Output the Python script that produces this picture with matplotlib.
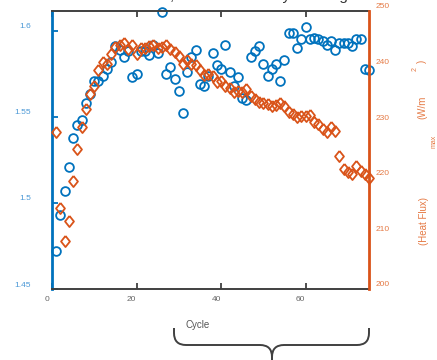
import matplotlib
matplotlib.use("Agg")
import matplotlib.pyplot as plt
from matplotlib.path import Path
from matplotlib.patches import PathPatch
from matplotlib.transforms import ScaledTranslation, IdentityTransform

plt.rcParams['font.family'] = ['Liberation Sans', 'DejaVu Sans']

cycle = list(range(1, 76))

efficiency = [1.472, 1.493, 1.507, 1.521, 1.538, 1.545, 1.548, 1.558, 1.563, 1.571,
              1.571, 1.574, 1.578, 1.582, 1.591, 1.589, 1.585, 1.588, 1.573, 1.575,
              1.588, 1.588, 1.586, 1.592, 1.587, 1.611, 1.575, 1.579, 1.572, 1.565,
              1.552, 1.576, 1.585, 1.589, 1.569, 1.568, 1.574, 1.587, 1.580, 1.578,
              1.592, 1.576, 1.568, 1.573, 1.561, 1.560, 1.585, 1.588, 1.591, 1.581,
              1.574, 1.578, 1.581, 1.571, 1.583, 1.599, 1.599, 1.590, 1.595, 1.602,
              1.595, 1.596, 1.595, 1.594, 1.592, 1.594, 1.589, 1.593, 1.593, 1.593,
              1.591, 1.595, 1.595, 1.578, 1.577]

heat_flux = [228.3, 214.5, 208.6, 212.3, 219.5, 225.1, 229.2, 232.4, 235.1, 236.6,
             239.3, 240.8, 240.5, 242.3, 243.5, 243.8, 244.3, 243.2, 243.8, 242.3,
             243.3, 243.3, 243.7, 243.8, 243.3, 243.5, 243.9, 243.2, 242.6, 241.9,
             240.5, 241.1, 240.5, 240.2, 239.3, 238.4, 238.7, 238.3, 237.2, 237.5,
             236.6, 236.1, 235.4, 235.7, 235.4, 235.9, 234.8, 234.2, 233.7, 233.5,
             233.3, 233.0, 233.1, 233.5, 232.9, 231.8, 231.5, 230.9, 231.2, 231.1,
             231.3, 230.1, 229.7, 228.8, 228.3, 229.1, 228.5, 224.0, 221.6, 221.0,
             220.7, 222.2, 221.3, 220.7, 220.0]

x_ticks = [0, 20, 40, 60]
left_ticks = [1.45, 1.5, 1.55, 1.6]
left_labels = ['1.45', '1.5', '1.55', '1.6']
right_ticks = [200, 210, 220, 230, 240, 250]
right_marked = [210, 230]

blue = '#0072BD'
orange = '#D95319'
gray = '#404040'

W, H = 437, 360
fig = plt.figure(figsize=(W / 100, H / 100), dpi=100)
ax = fig.add_axes([52 / W, (H - 289) / H, 317 / W, 278 / H])
ax2 = ax.twinx()

ax.plot(cycle, efficiency, 'o', ls='', ms=6.3, mfc='none', mec=blue, mew=1.3, clip_on=False)
diamond = [(0, 1), (0.8, 0), (0, -1), (-0.8, 0), (0, 1)]
ax2.plot(cycle, heat_flux, marker=diamond, ls='', ms=8, mfc='none', mec=orange, mew=1.3, clip_on=False)

ax.set_xlim(0, 75)
ax.set_ylim(1.45, 1.6115)
ax2.set_ylim(200, 250)

ax.set_xticks(x_ticks)
ax.set_yticks(left_ticks)
ax.set_yticklabels(left_labels)
ax2.set_yticks(right_ticks)
ax2.set_yticks(right_marked, minor=True)

for s in ['top', 'bottom']:
    ax.spines[s].set_color(gray)
    ax.spines[s].set_linewidth(1.4)
ax.spines['left'].set_color(blue)
ax.spines['left'].set_linewidth(2)
ax.spines['right'].set_visible(False)
for s in ['top', 'bottom', 'left']:
    ax2.spines[s].set_visible(False)
ax2.spines['right'].set_color(orange)
ax2.spines['right'].set_linewidth(2)

ax.tick_params(axis='x', direction='in', top=True, length=4, width=1.3, color=gray,
               labelsize=6, labelcolor='#666666', pad=5)
ax.tick_params(axis='y', direction='in', length=4, width=1.3, color=blue,
               labelsize=6, labelcolor='#4a98d6', pad=15)
ax2.tick_params(axis='y', which='major', direction='in', length=0,
                labelsize=6, labelcolor='#e57a45', pad=5)
ax2.tick_params(axis='y', which='minor', direction='in', length=4, width=1.3, color=orange)

# odd label offsets seen in the reference
up = ScaledTranslation(0, 3.6 / 72, fig.dpi_scale_trans)
leftshift = ScaledTranslation(-3.6 / 72, 0, fig.dpi_scale_trans)
for lab in ax.get_yticklabels():
    lab.set_transform(lab.get_transform() + up)
for lab in ax2.get_yticklabels():
    lab.set_transform(lab.get_transform() + up)
for lab in ax.get_xticklabels():
    lab.set_transform(lab.get_transform() + leftshift)

# garbled right axis label
lc = '#e57a45'
fig.text(424 / W, 1 - 221 / H, '(Heat Flux)', rotation=90, ha='center', va='center', fontsize=7, color=lc)
fig.text(422 / W, 1 - 107 / H, '(W/m', rotation=90, ha='center', va='center', fontsize=7, color=lc)
fig.text(415 / W, 1 - 69 / H, '2', rotation=90, ha='center', va='center', fontsize=5, color=lc)
fig.text(422 / W, 1 - 61 / H, ')', rotation=90, ha='center', va='center', fontsize=7, color=lc)
fig.text(434 / W, 1 - 141 / H, 'max', rotation=90, ha='center', va='center', fontsize=5, color=lc)

# title sits above the figure edge, only descenders show (as in the reference)
fig.text(59 / W, 1.0, 'Thermal Results, Heat Flux vs. Cycle Length', ha='left', va='baseline',
         fontsize=11, color='#333333')

# x label and brace
fig.text(198 / W, 1 - 325 / H, 'Cycle', ha='center', va='center', fontsize=7, color='#555555')


def pt(x, y):
    return (x, H - y)


verts = [pt(174, 328), pt(174, 333), pt(174, 345), pt(186, 345), pt(260, 345),
         pt(272, 345), pt(272, 357), pt(272, 362)]
codes = [Path.MOVETO, Path.LINETO, Path.CURVE3, Path.CURVE3, Path.LINETO,
         Path.CURVE3, Path.CURVE3, Path.LINETO]
verts2 = [pt(272, 362), pt(272, 357), pt(272, 345), pt(284, 345), pt(357, 345),
          pt(369, 345), pt(369, 333), pt(369, 328)]
codes2 = [Path.MOVETO, Path.LINETO, Path.CURVE3, Path.CURVE3, Path.LINETO,
          Path.CURVE3, Path.CURVE3, Path.LINETO]
for v, c in [(verts, codes), (verts2, codes2)]:
    fig.add_artist(PathPatch(Path(v, c), fill=False, ec=gray, lw=1.4,
                             transform=IdentityTransform()))

fig.savefig('out.png', dpi=100)
